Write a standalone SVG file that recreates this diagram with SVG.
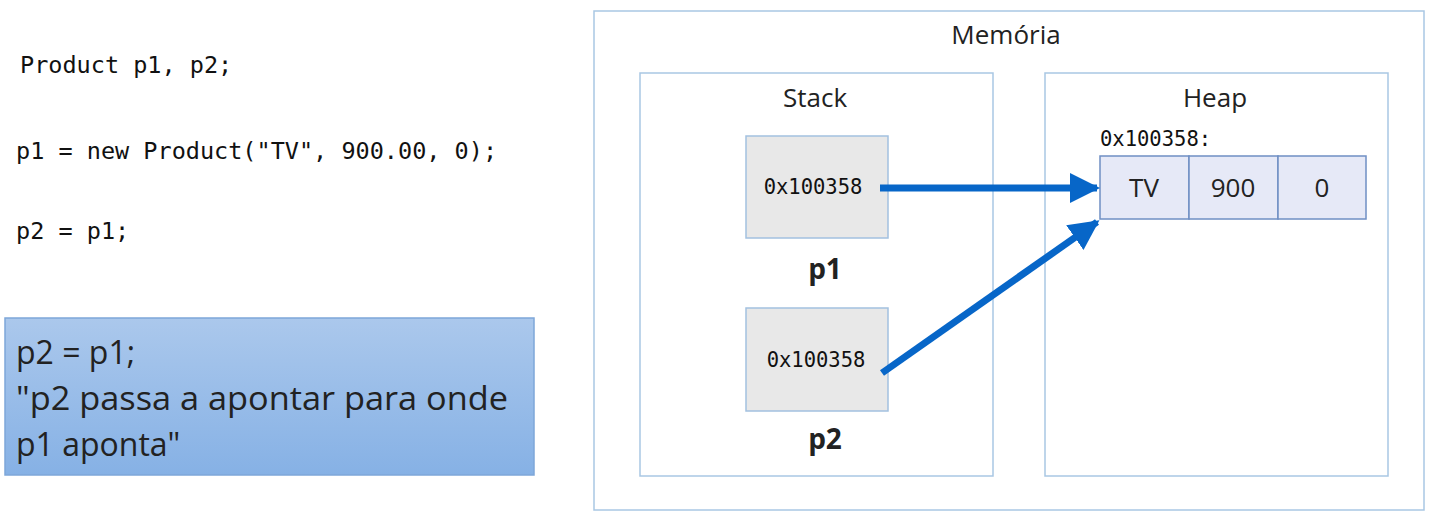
<svg xmlns="http://www.w3.org/2000/svg" width="1435" height="519" viewBox="0 0 1435 519">
<defs>
<linearGradient id="note" x1="0" y1="0" x2="0" y2="1">
<stop offset="0" stop-color="#abc8ec"/>
<stop offset="1" stop-color="#86b1e5"/>
</linearGradient>
<marker id="ah" viewBox="0 0 10 10" refX="9" refY="5" markerWidth="4.3" markerHeight="4.3" markerUnits="strokeWidth" orient="auto">
<path d="M0,0 L10,5 L0,10 z" fill="#0766c8"/>
</marker>
<style>
.code{font-family:"DejaVu Sans Mono","Liberation Mono",monospace;font-size:23.5px;fill:#111}
.sans{font-family:"Open Sans","Liberation Sans",sans-serif;fill:#222}
.frame{fill:#fff;stroke:#a9c7e4;stroke-width:1.5}
.var{fill:#e8e8e8;stroke:#a3c1e0;stroke-width:1.5}
.cell{fill:#e6e9f7;stroke:#6f8fc4;stroke-width:1.5}
.addr{font-family:"DejaVu Sans Mono","Liberation Mono",monospace;font-size:20.5px;fill:#111}
.conn{stroke:#0766c8;stroke-width:7;fill:none;marker-end:url(#ah)}
</style>
</defs>
<rect width="1435" height="519" fill="#fff"/>
<g id="code">
<text class="code" x="20" y="73">Product p1, p2;</text>
<text class="code" x="16" y="159">p1 = new Product("TV", 900.00, 0);</text>
<text class="code" x="16" y="239">p2 = p1;</text>
</g>
<g id="note-box">
<rect x="5" y="318" width="529" height="157" fill="url(#note)" stroke="#7ea7d9" stroke-width="1.5"/>
<text class="sans" x="16" y="364" font-size="32" fill="#111">p2 = p1;</text>
<text class="sans" x="16" y="410" font-size="32" fill="#111" textLength="492" lengthAdjust="spacingAndGlyphs">"p2 passa a apontar para onde</text>
<text class="sans" x="16" y="456" font-size="32" fill="#111">p1 aponta"</text>
</g>
<g id="memoria">
<rect class="frame" x="594" y="11" width="830" height="499"/>
<text class="sans" x="1006" y="44" font-size="26" text-anchor="middle">Memória</text>
</g>
<g id="stack">
<rect class="frame" x="640" y="73" width="353" height="403"/>
<text class="sans" x="815" y="107" font-size="26" text-anchor="middle">Stack</text>
</g>
<g id="heap">
<rect class="frame" x="1045" y="73" width="343" height="403"/>
<text class="sans" x="1215" y="107" font-size="26" text-anchor="middle">Heap</text>
</g>
<g id="p1">
<rect class="var" x="746" y="136" width="142" height="102"/>
<text class="addr" x="813" y="194" text-anchor="middle">0x100358</text>
<text class="sans" x="825" y="279" font-size="28" font-weight="bold" text-anchor="middle" fill="#111">p1</text>
</g>
<g id="p2">
<rect class="var" x="746" y="308" width="142" height="103"/>
<text class="addr" x="816" y="367" text-anchor="middle">0x100358</text>
<text class="sans" x="825" y="449" font-size="28" font-weight="bold" text-anchor="middle" fill="#111">p2</text>
</g>
<g id="product">
<text class="addr" x="1100" y="146">0x100358:</text>
<rect class="cell" x="1100" y="156" width="89" height="63"/>
<rect class="cell" x="1189" y="156" width="89" height="63"/>
<rect class="cell" x="1278" y="156" width="88" height="63"/>
<text class="sans" x="1144" y="197" font-size="26" text-anchor="middle">TV</text>
<text class="sans" x="1233" y="197" font-size="26" text-anchor="middle">900</text>
<text class="sans" x="1322" y="197" font-size="26" text-anchor="middle">0</text>
</g>
<g id="connectors">
<line class="conn" x1="880" y1="188" x2="1097" y2="188"/>
<line class="conn" x1="882" y1="373" x2="1097" y2="222"/>
</g>
</svg>
